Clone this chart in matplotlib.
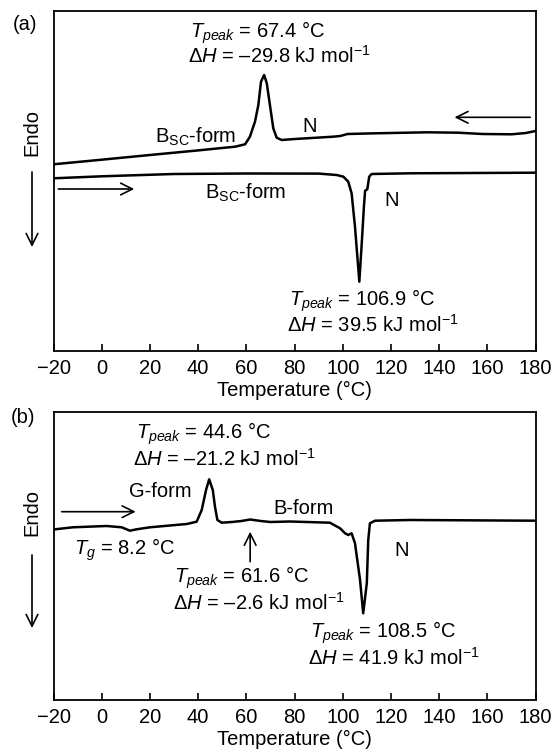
import numpy as np
import matplotlib.pyplot as plt

plt.rcParams['font.family'] = ['Liberation Sans', 'DejaVu Sans']
plt.rcParams['mathtext.fontset'] = 'custom'
plt.rcParams['mathtext.rm'] = 'Liberation Sans'
plt.rcParams['mathtext.it'] = 'Liberation Sans:italic'
plt.rcParams['font.size'] = 14.5

# (a) cooling scan (upper trace) and heating scan (lower trace), heat flow in a.u.
cool_T = [-20, 0, 20, 40, 55.3, 59.5, 61.5, 63.6, 65.0, 66.1, 67.4, 68.5, 69.8, 71.2, 72.6,
          74.7, 80.2, 96, 99, 102, 110, 120, 135, 148, 158, 170, 176, 180]
cool_hf = [186.7, 191.3, 196.0, 200.6, 204.3, 206.7, 214.3, 229.3, 246, 269.3, 276, 267.7, 246,
           222.7, 213.3, 211, 212, 214.3, 215, 217, 217.5, 218, 218.7, 218.3, 217, 216.7, 218, 220]

heat_T = [-20, 0, 30, 60, 90, 97.5, 100.3, 102.3, 103.7, 105.1, 106.9, 107.9, 108.8, 109.3,
          110.2, 111, 112, 128, 180]
heat_hf = [172.7, 174.7, 177, 177.5, 177.4, 176, 174.3, 169.3, 157.7, 124.3, 69.3, 107.7, 144.3,
           160.3, 161.7, 174.3, 177, 177.7, 178.3]

# (b) heating scan of the glassy sample
glass_T = [-20, -12, 2, 8.3, 11.7, 14.5, 20, 35.3, 39.4, 41.5, 43.3, 44.6, 46.1, 47.0, 48.0,
           49.8, 54, 58, 61.6, 66, 70, 78, 94.7, 98.9, 101, 102.3, 103.7, 105.1, 107.2, 108.5,
           110, 110.6, 111.3, 113.4, 128, 180]
glass_hf = [170.5, 172.7, 174, 172.7, 169.3, 170.7, 172.7, 176, 178.3, 190, 210, 220.7, 210, 193.3,
            180, 177.3, 178, 179, 180.5, 179, 178, 178.5, 177.3, 171.7, 166.7, 165, 166.7, 156.7,
            120, 86.7, 116.7, 160, 176.7, 179.3, 180, 179.3]

xticks = list(range(-20, 181, 20))

W, H = 553, 753
fig = plt.figure(figsize=(W / 100, H / 100), dpi=100)


def px_axes(left, top, right, bottom):
    return fig.add_axes([left / W, 1 - bottom / H, (right - left) / W, (bottom - top) / H])


def style(ax, ymax):
    ax.set_xlim(-20, 180)
    ax.set_ylim(0, ymax)
    ax.set_xticks(xticks)
    ax.set_yticks([])
    ax.tick_params(axis='x', direction='in', length=5, width=1.2, top=False, pad=6)
    for s in ax.spines.values():
        s.set_linewidth(1.3)


def arrow(ax, x0, y0, x1, y1, coords='data'):
    ax.annotate('', xy=(x1, y1), xytext=(x0, y0), xycoords=coords, textcoords=coords,
                annotation_clip=False,
                arrowprops=dict(arrowstyle='->,head_length=0.7,head_width=0.35',
                                lw=1.2, color='k', mutation_scale=12,
                                shrinkA=0, shrinkB=0))


tpk = r'$\mathit{T}_{\mathit{peak}}$'
dH = r'$\mathit{ΔH}$'
mol = r'kJ mol$^{\mathregular{-1}}$'

# ---- panel (a)
ax1 = px_axes(53.5, 11, 535.5, 351)
style(ax1, 340)
ax1.plot(cool_T, cool_hf, color='k', lw=1.8, solid_joinstyle='round')
ax1.plot(heat_T, heat_hf, color='k', lw=1.8, solid_joinstyle='round')
arrow(ax1, -18, 162, 13.5, 162)
arrow(ax1, 177.8, 233.7, 146.4, 233.7)

ax1.text(36.7, 318.5, tpk + ' = 67.4 °C', ha='left', va='center')
ax1.text(36, 295, dH + ' = –29.8 ' + mol, ha='left', va='center')
ax1.text(22.1, 214.3, r'B$_{\mathregular{SC}}$-form', ha='left', va='center')
ax1.text(86.4, 224.3, 'N', ha='center', va='center')
ax1.text(42.9, 157.7, r'B$_{\mathregular{SC}}$-form', ha='left', va='center')
ax1.text(120.1, 151, 'N', ha='center', va='center')
ax1.text(77.7, 50.5, tpk + ' = 106.9 °C', ha='left', va='center')
ax1.text(77, 26.5, dH + ' = 39.5 ' + mol, ha='left', va='center')
ax1.set_xlabel('Temperature (°C)', labelpad=2)

# ---- panel (b)
ax2 = px_axes(53.5, 412, 535.5, 700)
style(ax2, 288)
ax2.plot(glass_T, glass_hf, color='k', lw=1.8, solid_joinstyle='round')
arrow(ax2, -16.6, 188.3, 14.1, 188.3)
arrow(ax2, 61.6, 138.3, 61.6, 168.3)

ax2.text(14.1, 266, tpk + ' = 44.6 °C', ha='left', va='center')
ax2.text(13.1, 241, dH + ' = –21.2 ' + mol, ha='left', va='center')
ax2.text(11.2, 208.3, 'G-form', ha='left', va='center')
ax2.text(71.1, 191.7, 'B-form', ha='left', va='center')
ax2.text(-11.5, 150, r'$\mathit{T}_{\mathit{g}}$ = 8.2 °C', ha='left', va='center')
ax2.text(30.2, 122.5, tpk + ' = 61.6 °C', ha='left', va='center')
ax2.text(29.5, 97.5, dH + ' = –2.6 ' + mol, ha='left', va='center')
ax2.text(124.5, 150, 'N', ha='center', va='center')
ax2.text(86.4, 67.5, tpk + ' = 108.5 °C', ha='left', va='center')
ax2.text(85.7, 42.5, dH + ' = 41.9 ' + mol, ha='left', va='center')
ax2.set_xlabel('Temperature (°C)', labelpad=2)

# panel letters and the "Endo" direction markers outside the frames
fig.text(25 / W, 1 - 25 / H, '(a)', ha='center', va='center')
fig.text(23 / W, 1 - 418 / H, '(b)', ha='center', va='center')
for ty, a0, a1 in [(132, 172, 247), (513, 555, 628)]:
    fig.text(32 / W, 1 - ty / H, 'Endo', rotation=90, ha='center', va='center')
    arrow(ax1, 32 / W, 1 - a0 / H, 32 / W, 1 - a1 / H, coords='figure fraction')

fig.savefig('out.png', dpi=100)
